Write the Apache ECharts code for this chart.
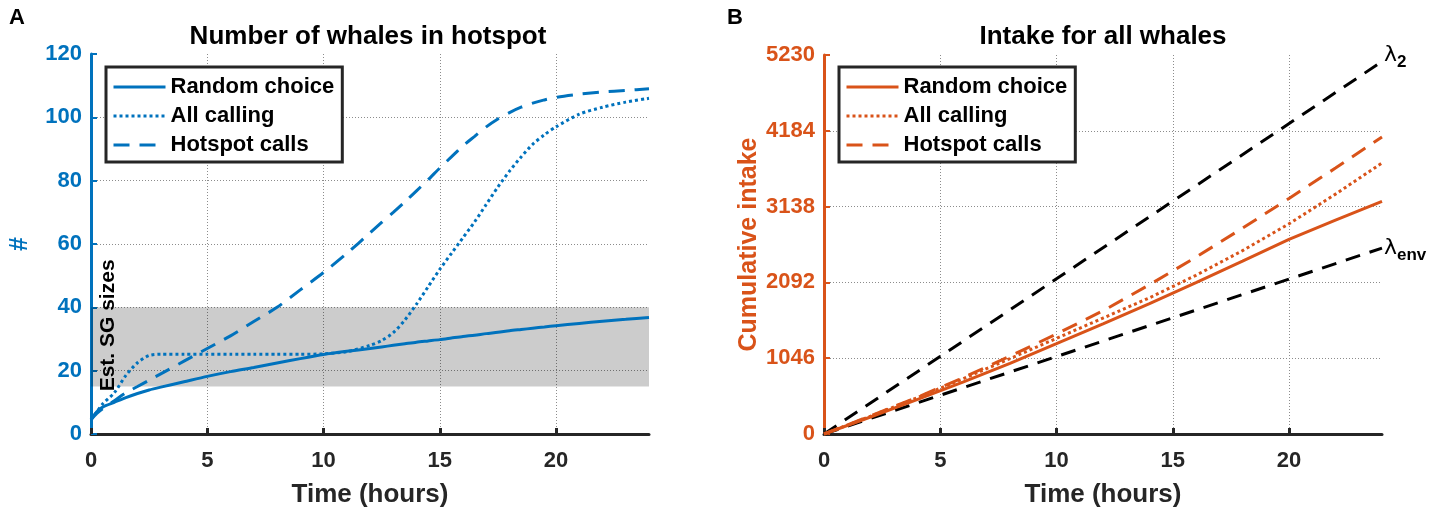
<!DOCTYPE html>
<html><head><meta charset="utf-8">
<script src="https://cdn.jsdelivr.net/npm/echarts@6/dist/echarts.min.js"></script>
<style>html,body{margin:0;padding:0;background:#fff}#c{width:1452px;height:516px}</style>
</head><body><div id="c"></div>
<script>
// ---- Panel A: number of whales in hotspot ----
const hoursA = [0, 0.25, 0.5, 1, 1.5, 2, 2.5, 3, 4, 5, 6, 7, 8, 9, 10, 11, 12, 12.5, 13, 13.5, 14, 14.5, 15, 15.5, 16, 16.5, 17, 17.5, 18, 18.5, 19, 19.5, 20, 21, 22, 23, 24];
const randomA = [4.5, 7, 8.5, 10, 11.5, 12.8, 13.9, 14.8, 16.5, 18.2, 19.7, 21, 22.4, 23.8, 25.1, 26.1, 27, 27.5, 28, 28.5, 29, 29.4, 29.8, 30.3, 30.8, 31.2, 31.7, 32.1, 32.6, 33, 33.4, 33.8, 34.2, 34.9, 35.6, 36.2, 36.8];
const allCallingA = [4.5, 7, 9.5, 13, 18.5, 22.5, 24.8, 25.2, 25.2, 25.2, 25.2, 25.2, 25.2, 25.2, 25.3, 26, 28, 29.5, 32, 36, 41, 46.5, 52, 57, 62, 67, 72.5, 78, 83, 87.5, 91.5, 94.5, 97, 101, 103.2, 104.8, 106];
const hotspotA = [4.5, 6.5, 8, 10.5, 13, 15, 17, 19, 23, 27, 31, 35.5, 40, 45.5, 51, 57, 63.5, 66.8, 70, 73.3, 76.8, 80.3, 84, 87.5, 91, 94, 97, 99.5, 101.5, 103.2, 104.5, 105.5, 106.3, 107.3, 108, 108.5, 109];
const sgBand = [15, 40];
const sgLabelAt = [0.73, 34.3];

// ---- Panel B: cumulative intake ----
const hoursB = [0, 2, 4, 6, 8, 10, 12, 14, 16, 18, 20, 22, 24];
const randomB = [0, 235, 475, 720, 975, 1246, 1520, 1800, 2090, 2385, 2687, 2950, 3210];
const allCallingB = [0, 245, 500, 765, 1040, 1320, 1600, 1880, 2190, 2530, 2900, 3310, 3740];
const hotspotB = [0, 250, 505, 780, 1075, 1380, 1700, 2060, 2440, 2840, 3250, 3670, 4100];
const lambdaHours = [0, 24];
const lambda2 = [0, 5140];
const lambdaEnv = [0, 2565];

// ---- ticks / labels ----
const xTicks = [0, 5, 10, 15, 20];
const yTicksA = [0, 20, 40, 60, 80, 100, 120];
const yTicksB = [0, 1046, 2092, 3138, 4184, 5230];
const legendNames = ['Random choice', 'All calling', 'Hotspot calls'];

const BLUE = '#0072BD', ORANGE = '#D95319', INK = '#262626';
const FONT = '"Liberation Sans", Arial, Helvetica, sans-serif';
const pair = (xs, ys) => xs.map((x, i) => [x, ys[i]]);
const DASH = [16, 10], DOT = [3, 3];
const styles = ['solid', DOT, DASH];

const chart = echarts.init(document.getElementById('c'));

function xAxis(gi) {
  return {
    gridIndex: gi, type: 'value', min: xTicks[0], max: 24, interval: 5,
    name: 'Time (hours)', nameLocation: 'middle', nameGap: 48,
    nameTextStyle: {fontFamily: FONT, fontSize: 26, fontWeight: 'bold', color: INK},
    axisLine: {show: true, onZero: false, lineStyle: {color: INK, width: 3}},
    axisTick: {show: true, inside: true, length: 6, lineStyle: {color: INK, width: 3}, customValues: xTicks},
    axisLabel: {fontFamily: FONT, fontSize: 22, fontWeight: 'bold', color: INK, margin: 16, customValues: xTicks},
    splitLine: {show: true, showMinLine: false, lineStyle: {color: '#8c8c8c', width: 1, type: [1, 2]}}
  };
}
function yAxis(gi, ticks, color, name, gap) {
  return {
    gridIndex: gi, type: 'value', min: ticks[0], max: ticks[ticks.length - 1], interval: ticks[1] - ticks[0],
    name: name, nameLocation: 'middle', nameGap: gap,
    nameTextStyle: {fontFamily: FONT, fontSize: 25, fontWeight: 'bold', color: color},
    axisLine: {show: true, onZero: false, lineStyle: {color: color, width: 3}},
    axisTick: {show: true, inside: true, length: 6, lineStyle: {color: color, width: 2}},
    axisLabel: {fontFamily: FONT, fontSize: 22, fontWeight: 'bold', color: color, margin: 9, formatter: v => String(v)},
    splitLine: {show: true, showMinLine: false, showMaxLine: false, lineStyle: {color: '#8c8c8c', width: 1, type: [1, 2]}}
  };
}
function legend(left, suffix) {
  return {
    data: legendNames.map(n => n + suffix), left: left, top: 67, orient: 'vertical',
    formatter: n => n.replace(suffix, ''), selectedMode: false,
    itemWidth: 52, itemHeight: 14, itemGap: 7,
    itemStyle: {opacity: 0, borderWidth: 0},
    lineStyle: {width: 3},
    textStyle: {fontFamily: FONT, fontSize: 22, fontWeight: 'bold', color: '#000', lineHeight: 22},
    borderColor: INK, borderWidth: 3, borderRadius: 0, padding: [9, 8, 6, 6], backgroundColor: '#fff'
  };
}
function curve(name, gi, xs, ys, color, type, smooth) {
  return {
    name: name, type: 'line', xAxisIndex: gi, yAxisIndex: gi, data: pair(xs, ys),
    symbol: 'none', smooth: smooth, clip: false,
    lineStyle: {color: color, width: 3, type: type}, itemStyle: {color: color}, z: 3
  };
}
const lamRich = {
  l: {fontFamily: 'DejaVu Sans, ' + FONT, fontSize: 22, color: '#000', lineHeight: 30},
  s: {fontFamily: FONT, fontSize: 17, fontWeight: 'bold', color: '#000', padding: [14, 0, 0, 0]}
};
function lambdaLine(ys, sub, offY) {
  return {
    type: 'line', xAxisIndex: 1, yAxisIndex: 1, data: pair(lambdaHours, ys), symbol: 'none', silent: true,
    lineStyle: {color: '#000', width: 3, type: [15, 10]}, z: 2,
    endLabel: {show: true, formatter: '{l|λ}{s|' + sub + '}', rich: lamRich, distance: 2, offset: [0, offY]}
  };
}

const series = [
  {
    type: 'line', xAxisIndex: 0, yAxisIndex: 0, data: [], silent: true, z: 1,
    markArea: {silent: true, itemStyle: {color: 'rgba(0,0,0,0.2)'}, data: [[{yAxis: sgBand[0]}, {yAxis: sgBand[1]}]]}
  },
  curve(legendNames[0], 0, hoursA, randomA, BLUE, styles[0], 0.25),
  curve(legendNames[1], 0, hoursA, allCallingA, BLUE, styles[1], 0.25),
  curve(legendNames[2], 0, hoursA, hotspotA, BLUE, styles[2], 0.25),
  lambdaLine(lambda2, '2', -6),
  lambdaLine(lambdaEnv, 'env', 0),
  curve(legendNames[0] + '#B', 1, hoursB, randomB, ORANGE, styles[0], false),
  curve(legendNames[1] + '#B', 1, hoursB, allCallingB, ORANGE, styles[1], false),
  curve(legendNames[2] + '#B', 1, hoursB, hotspotB, ORANGE, styles[2], false)
];

chart.setOption({
  animation: false,
  backgroundColor: '#fff',
  textStyle: {fontFamily: FONT},
  title: [
    {text: 'Number of whales in hotspot', left: 368, top: 24, padding: 0, textAlign: 'center', textStyle: {fontFamily: FONT, fontSize: 26, fontWeight: 'bold', color: '#000'}},
    {text: 'Intake for all whales', left: 1103, top: 24, padding: 0, textAlign: 'center', textStyle: {fontFamily: FONT, fontSize: 26, fontWeight: 'bold', color: '#000'}},
    {text: 'A', left: 9, top: 7, padding: 0, textStyle: {fontFamily: FONT, fontSize: 22, fontWeight: 'bold', color: '#000'}},
    {text: 'B', left: 727, top: 7, padding: 0, textStyle: {fontFamily: FONT, fontSize: 22, fontWeight: 'bold', color: '#000'}}
  ],
  grid: [
    {left: 91, right: 803, top: 54, bottom: 82},
    {left: 824, right: 70, top: 55, bottom: 82}
  ],
  xAxis: [xAxis(0), xAxis(1)],
  yAxis: [yAxis(0, yTicksA, BLUE, '#', 58), yAxis(1, yTicksB, ORANGE, 'Cumulative intake', 62)],
  legend: [legend(106, ''), legend(839, '#B')],
  series: series
});

const p = chart.convertToPixel({gridIndex: 0}, sgLabelAt);
chart.setOption({
  graphic: [{
    type: 'text', x: p[0], y: p[1], rotation: Math.PI / 2, z: 10,
    style: {text: 'Est. SG sizes', font: 'bold 21px ' + FONT, fill: '#000', align: 'center', verticalAlign: 'middle'}
  }]
});
</script>
</body></html>
